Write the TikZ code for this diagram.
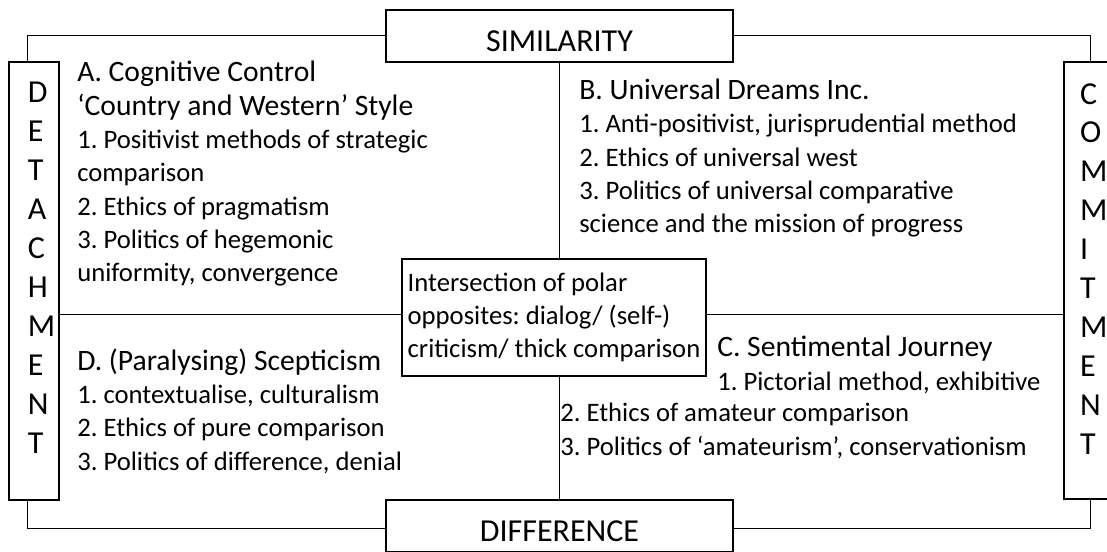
\documentclass[tikz,border=0pt]{standalone}
\usepackage{fontspec}
\setmainfont{Carlito}
\usetikzlibrary{positioning}

\newcommand{\quadhead}[1]{{\fontsize{22.2}{25}\selectfont #1}}

\tikzset{box/.style={draw,line width=1.5pt,fill=white,inner sep=0pt}}
\tikzset{axis/.style={box,font=\fontsize{24}{29}\selectfont,text height=24pt,text depth=0pt,minimum width=260.25pt,minimum height=39pt}}
\tikzset{side/.style={box,minimum width=37.5pt,minimum height=328pt}}
\tikzset{letters/.style={inner sep=0pt,align=left,font=\fontsize{24}{29.2}\selectfont}}
\tikzset{quad/.style={anchor=base west,inner sep=0pt,align=left,font=\fontsize{20}{25}\selectfont\frenchspacing}}
\tikzset{thinline/.style={line width=0.75pt}}

\begin{document}
\begin{tikzpicture}[x=0.75pt,y=-0.75pt]

	\useasboundingbox (0,0) rectangle (1107,552);
	\draw[thinline] (27.5,36) rectangle (1090,528);

	\node[axis] (sim) at (559.5,36) {SIMILARITY};
	\node[axis] (diff) at (559.5,525.5) {DIFFERENCE};
	\node[side] (det) at (34.25,281) {};
	\node[side] (com) at (1088.5,280.5) {};
	\node[letters,below right=15.6pt and 14.5pt of det.north west,anchor=north west] (detl) {D\\E\\T\\A\\C\\H\\M\\E\\N\\T};
	\node[letters,below right=16.6pt and 13pt of com.north west,anchor=north west] (coml) {C\\O\\M\\M\\I\\T\\M\\E\\N\\T};

	\coordinate (mid) at (559,315);
	\node[box,minimum width=228pt,minimum height=87.75pt,align=left,font=\fontsize{20}{24.75}\selectfont\frenchspacing] (inter) at (554,317.5) {Intersection of polar\\opposites: dialog/ (self-)\\criticism/ thick comparison};
	\draw[thinline] (sim.south -| mid) -- (inter.north -| mid);
	\draw[thinline] (inter.south -| mid) -- (diff.north -| mid);
	\draw[thinline] (det.east |- mid) -- (inter.west |- mid);
	\draw[thinline] (inter.east |- mid) -- (com.west |- mid);

	% quadrants (placed at the baseline of their last line)
	\node[quad] (qa) at (77,282) {\quadhead{A. Cognitive Control}\\\quadhead{‘Country and Western’ Style}\\1. Positivist methods of strategic\\comparison\\2. Ethics of pragmatism\\3. Politics of hegemonic\\uniformity, convergence};
	\node[quad] (qb) at (579,233) {\quadhead{B. Universal Dreams Inc.}\\1. Anti-positivist, jurisprudential method\\2. Ethics of universal west\\3. Politics of universal comparative\\science and the mission of progress};
	\node[quad] (qd) at (77,470) {\quadhead{D. (Paralysing) Scepticism}\\1. contextualise, culturalism\\2. Ethics of pure comparison\\3. Politics of difference, denial};
	\node[quad] (qc) at (717,390) {\quadhead{C. Sentimental Journey}\\1. Pictorial method, exhibitive};
	\node[quad] (qcl) at (560,455) {2. Ethics of amateur comparison\\3. Politics of ‘amateurism’, conservationism};

\end{tikzpicture}
\end{document}
